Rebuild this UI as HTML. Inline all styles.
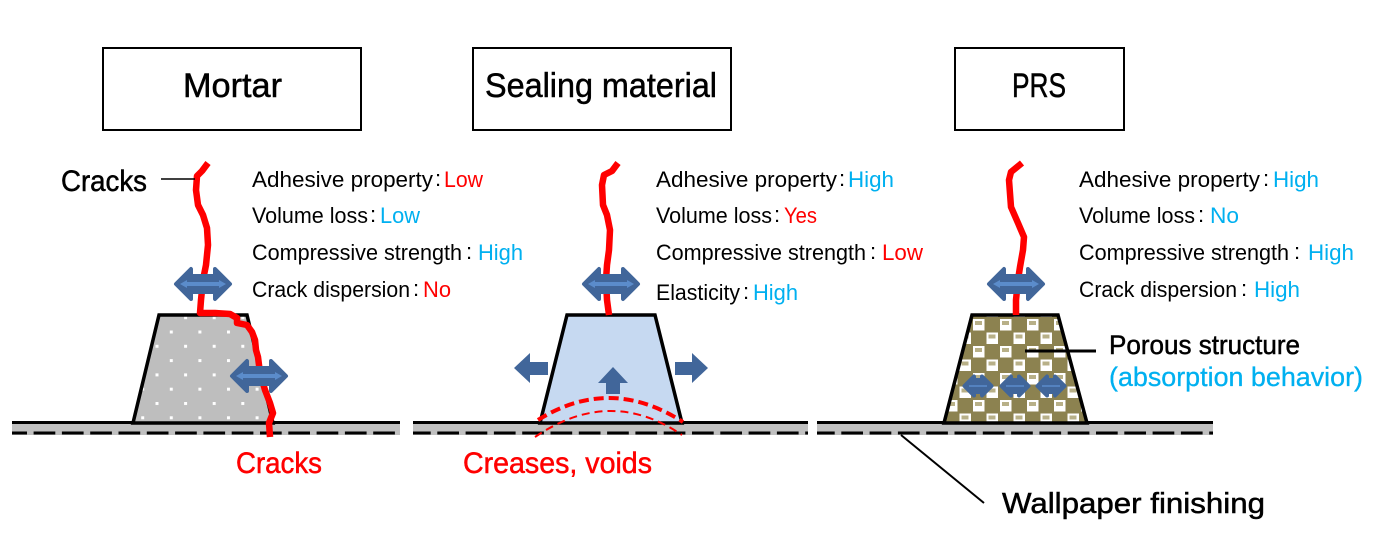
<!DOCTYPE html>
<html><head><meta charset="utf-8"><style>
html,body{margin:0;padding:0;background:#fff;}
svg{display:block;}
text{font-family:"Liberation Sans","Noto Sans CJK JP",sans-serif;}
</style></head><body>
<svg width="1375" height="559" viewBox="0 0 1375 559" xmlns="http://www.w3.org/2000/svg">
<defs>
  <pattern id="dots" patternUnits="userSpaceOnUse" x="155.5" y="344.8" width="28.6" height="28.6">
    <rect width="28.6" height="28.6" fill="#BEBEBE"/>
    <rect x="0" y="0" width="3" height="3" fill="#fff"/>
    <rect x="14.3" y="14.3" width="3" height="3" fill="#fff"/>
  </pattern>
  <pattern id="check" patternUnits="userSpaceOnUse" x="972" y="318" width="27" height="27">
    <rect width="27" height="27" fill="#8C8250"/>
    <rect x="1" y="1" width="11.5" height="11.5" fill="#fff"/>
    <rect x="14.5" y="14.5" width="11.5" height="11.5" fill="#fff"/>
    <rect x="3" y="3" width="7" height="4" fill="#B8B088"/>
    <rect x="16.5" y="16.5" width="7" height="4" fill="#B8B088"/>
  </pattern>
  <g id="dbl">
    <path d="M-27 0 L-12 -15 L-12 -8 L12 -8 L12 -15 L27 0 L12 15 L12 8 L-12 8 L-12 15 Z" fill="#41669A" stroke="#41669A" stroke-width="4" stroke-linejoin="round"/>
    <line x1="-17" y1="0" x2="17" y2="0" stroke="#5B8CCB" stroke-width="4"/>
    <path d="M-23 0 L-16 -4 L-16 4 Z M23 0 L16 -4 L16 4 Z" fill="#5B8CCB"/>
  </g>
  <g id="dbls">
    <path d="M-13.5 0 L-4 -9.5 L-4 -6 L4 -6 L4 -9.5 L13.5 0 L4 9.5 L4 6 L-4 6 L-4 9.5 Z" fill="#41669A" stroke="#41669A" stroke-width="4" stroke-linejoin="round"/>
    <line x1="-9" y1="0" x2="9" y2="0" stroke="#5B8CCB" stroke-width="1.5"/>
  </g>
</defs>

<!-- Title boxes -->
<rect x="103" y="48" width="258" height="82" fill="#fff" stroke="#000" stroke-width="2"/>
<text x="183" y="97" font-size="34" stroke="#000" stroke-width="0.5" textLength="99" lengthAdjust="spacingAndGlyphs">Mortar</text>
<rect x="473" y="48" width="258" height="82" fill="#fff" stroke="#000" stroke-width="2"/>
<text x="485" y="97" font-size="34" stroke="#000" stroke-width="0.5" textLength="232" lengthAdjust="spacingAndGlyphs">Sealing material</text>
<rect x="955" y="48" width="169" height="82" fill="#fff" stroke="#000" stroke-width="2"/>
<text x="1012" y="97" font-size="34" stroke="#000" stroke-width="0.5" textLength="54" lengthAdjust="spacingAndGlyphs">PRS</text>

<!-- Ground segments -->
<g>
  <rect x="12" y="423" width="388" height="12" fill="#C0C0C0"/>
  <line x1="12" y1="422.5" x2="400" y2="422.5" stroke="#000" stroke-width="3"/>
  <line x1="12" y1="433" x2="400" y2="433" stroke="#000" stroke-width="3" stroke-dasharray="21.7 6.6" stroke-dashoffset="6.7"/>
  <rect x="413" y="423" width="395" height="12" fill="#C0C0C0"/>
  <line x1="413" y1="422.5" x2="808" y2="422.5" stroke="#000" stroke-width="3"/>
  <line x1="413" y1="433" x2="808" y2="433" stroke="#000" stroke-width="3" stroke-dasharray="21.7 6.6" stroke-dashoffset="4"/>
  <rect x="817" y="423" width="396" height="12" fill="#C0C0C0"/>
  <line x1="817" y1="422.5" x2="1213" y2="422.5" stroke="#000" stroke-width="3"/>
  <line x1="817" y1="433" x2="1213" y2="433" stroke="#000" stroke-width="3" stroke-dasharray="21.7 6.6" stroke-dashoffset="4"/>
</g>

<!-- Mortar -->
<polygon points="159,315 247,315 273,423 133,423" fill="url(#dots)" stroke="#000" stroke-width="3.5" stroke-linejoin="miter"/>
<path d="M208 163 L202 171 L197 176 L196 190 L198 205 L203 215 L207 228 L208 245 L206 265 L203 280 L201 300 L200 313 L215 313 L230 314 L237 318 L237 323 L247 325 L252 332 L255 340 L256 350 L258 357 L260 373 L265 390 L270 403 L273 413 L269 423 L270 437" fill="none" stroke="#FF0000" stroke-width="6.5" stroke-linejoin="round"/>
<use href="#dbl" x="203" y="284"/>
<use href="#dbl" x="259" y="376"/>
<line x1="161" y1="179" x2="195" y2="179" stroke="#000" stroke-width="1.5"/>
<text x="61" y="191" font-size="30" stroke="#000" stroke-width="0.5" textLength="86" lengthAdjust="spacingAndGlyphs">Cracks</text>
<text x="236" y="473" font-size="30" fill="#FF0000" stroke="#FF0000" stroke-width="0.5" textLength="86" lengthAdjust="spacingAndGlyphs">Cracks</text>

<g font-size="22">
  <text x="252" y="187" textLength="181" lengthAdjust="spacingAndGlyphs">Adhesive property</text>
  <text x="435" y="186">:</text>
  <text x="444" y="187" fill="#FF0000" textLength="39" lengthAdjust="spacingAndGlyphs">Low</text>
  <text x="252" y="223" textLength="116" lengthAdjust="spacingAndGlyphs">Volume loss</text>
  <text x="370" y="222">:</text>
  <text x="380" y="223" fill="#00B0F0" textLength="40" lengthAdjust="spacingAndGlyphs">Low</text>
  <text x="252" y="260" textLength="210" lengthAdjust="spacingAndGlyphs">Compressive strength</text>
  <text x="466" y="259">:</text>
  <text x="478" y="260" fill="#00B0F0" textLength="45" lengthAdjust="spacingAndGlyphs">High</text>
  <text x="252" y="297" textLength="158" lengthAdjust="spacingAndGlyphs">Crack dispersion</text>
  <text x="413" y="296">:</text>
  <text x="423" y="297" fill="#FF0000" textLength="28" lengthAdjust="spacingAndGlyphs">No</text>
</g>

<!-- Sealing material -->
<polygon points="567,315 655,315 682,423 540,423" fill="#C6D9F1" stroke="#000" stroke-width="3.5"/>
<path d="M618 163 L612 171 L604 175 L602 185 L603 205 L607 215 L610 230 L609 250 L607 265 L606 280 L607 300 L609 315" fill="none" stroke="#FF0000" stroke-width="6.5" stroke-linejoin="round"/>
<use href="#dbl" x="611" y="284"/>
<path d="M514 368 L530 353 L530 362 L548 362 L548 375 L530 375 L530 383 Z" fill="#41669A"/>
<path d="M708 368 L692 353 L692 362 L675 362 L675 375 L692 375 L692 383 Z" fill="#41669A"/>
<path d="M613 367 L598 383 L606 383 L606 394 L620 394 L620 383 L628 383 Z" fill="#41669A"/>
<path d="M538 420 Q610 375 683 422" fill="none" stroke="#FF0000" stroke-width="4" stroke-dasharray="10 5"/>
<path d="M535 437 Q610 386 682 435" fill="none" stroke="#FF0000" stroke-width="2" stroke-dasharray="8 5"/>
<text x="463" y="473" font-size="30" fill="#FF0000" stroke="#FF0000" stroke-width="0.5" textLength="189" lengthAdjust="spacingAndGlyphs">Creases, voids</text>

<g font-size="22">
  <text x="656" y="187" textLength="181" lengthAdjust="spacingAndGlyphs">Adhesive property</text>
  <text x="839" y="186">:</text>
  <text x="848" y="187" fill="#00B0F0" textLength="46" lengthAdjust="spacingAndGlyphs">High</text>
  <text x="656" y="223" textLength="116" lengthAdjust="spacingAndGlyphs">Volume loss</text>
  <text x="774" y="222">:</text>
  <text x="784" y="223" fill="#FF0000" textLength="33" lengthAdjust="spacingAndGlyphs">Yes</text>
  <text x="656" y="260" textLength="210" lengthAdjust="spacingAndGlyphs">Compressive strength</text>
  <text x="870" y="259">:</text>
  <text x="882" y="260" fill="#FF0000" textLength="41" lengthAdjust="spacingAndGlyphs">Low</text>
  <text x="656" y="300" textLength="84" lengthAdjust="spacingAndGlyphs">Elasticity</text>
  <text x="743" y="299">:</text>
  <text x="753" y="300" fill="#00B0F0" textLength="45" lengthAdjust="spacingAndGlyphs">High</text>
</g>

<!-- PRS -->
<polygon points="972,315 1058,315 1087,423 944,423" fill="url(#check)" stroke="#000" stroke-width="3.5"/>
<path d="M1022 163 L1011 172 L1009 180 L1011 207 L1018 223 L1024 237 L1023 250 L1020 267 L1018 280 L1016 300 L1016 315" fill="none" stroke="#FF0000" stroke-width="6.5" stroke-linejoin="round"/>
<use href="#dbl" x="1016" y="284"/>
<use href="#dbls" x="978" y="386"/>
<use href="#dbls" x="1015" y="386"/>
<use href="#dbls" x="1051" y="386"/>
<line x1="1025" y1="351" x2="1096" y2="351" stroke="#000" stroke-width="3"/>
<text x="1109" y="354" font-size="27" stroke="#000" stroke-width="0.5" textLength="191" lengthAdjust="spacingAndGlyphs">Porous structure</text>
<text x="1109" y="386" font-size="27" fill="#00B0F0" stroke="#00B0F0" stroke-width="0.3" textLength="254" lengthAdjust="spacingAndGlyphs">(absorption behavior)</text>
<line x1="901" y1="435" x2="984" y2="503" stroke="#000" stroke-width="2"/>
<text x="1002" y="513" font-size="29" stroke="#000" stroke-width="0.5" textLength="263" lengthAdjust="spacingAndGlyphs">Wallpaper finishing</text>

<g font-size="22">
  <text x="1079" y="187" textLength="181" lengthAdjust="spacingAndGlyphs">Adhesive property</text>
  <text x="1263" y="186">:</text>
  <text x="1273" y="187" fill="#00B0F0" textLength="46" lengthAdjust="spacingAndGlyphs">High</text>
  <text x="1079" y="223" textLength="116" lengthAdjust="spacingAndGlyphs">Volume loss</text>
  <text x="1198" y="222">:</text>
  <text x="1210" y="223" fill="#00B0F0" textLength="29" lengthAdjust="spacingAndGlyphs">No</text>
  <text x="1079" y="260" textLength="210" lengthAdjust="spacingAndGlyphs">Compressive strength</text>
  <text x="1294" y="259">:</text>
  <text x="1308" y="260" fill="#00B0F0" textLength="46" lengthAdjust="spacingAndGlyphs">High</text>
  <text x="1079" y="297" textLength="158" lengthAdjust="spacingAndGlyphs">Crack dispersion</text>
  <text x="1241" y="296">:</text>
  <text x="1254" y="297" fill="#00B0F0" textLength="46" lengthAdjust="spacingAndGlyphs">High</text>
</g>
</svg>
</body></html>
